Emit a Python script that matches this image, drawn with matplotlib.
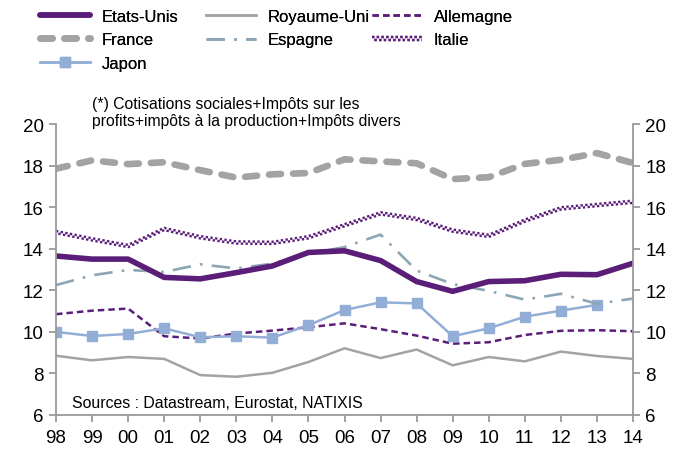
import matplotlib
matplotlib.use("Agg")
import matplotlib.pyplot as plt
from matplotlib.lines import Line2D
from matplotlib.legend_handler import HandlerBase
from matplotlib.transforms import offset_copy
import numpy as np

plt.rcParams['font.family'] = ['Liberation Sans', 'DejaVu Sans']

years = ['98', '99', '00', '01', '02', '03', '04', '05', '06', '07', '08',
         '09', '10', '11', '12', '13', '14']

etats_unis = [13.65, 13.5, 13.5, 12.62, 12.55, 12.85, 13.17, 13.82, 13.9, 13.43, 12.42,
              11.95, 12.42, 12.46, 12.77, 12.75, 13.3]
royaume_uni = [8.85, 8.63, 8.79, 8.7, 7.92, 7.84, 8.03, 8.55, 9.21, 8.74, 9.15,
               8.39, 8.79, 8.58, 9.05, 8.84, 8.7]
allemagne = [10.85, 11.02, 11.12, 9.79, 9.68, 9.92, 10.06, 10.22, 10.41, 10.13, 9.82,
             9.43, 9.5, 9.85, 10.05, 10.08, 10.03]
france = [17.85, 18.25, 18.07, 18.16, 17.78, 17.42, 17.58, 17.64, 18.3, 18.2, 18.11,
          17.35, 17.44, 18.08, 18.28, 18.6, 18.12]
espagne = [12.25, 12.72, 12.98, 12.88, 13.25, 13.05, 13.28, 13.75, 14.08, 14.68, 12.95,
           12.3, 11.97, 11.55, 11.83, 11.35, 11.6]
italie = [14.8, 14.45, 14.13, 14.95, 14.55, 14.3, 14.28, 14.55, 15.13, 15.7, 15.43,
          14.87, 14.62, 15.35, 15.94, 16.1, 16.26]
japon = [10.0, 9.8, 9.9, 10.17, 9.74, 9.79, 9.72, 10.32, 11.05, 11.42, 11.37,
         9.79, 10.17, 10.73, 11.02, 11.3, np.nan]

PURPLE = '#5A1E78'
GREY = '#A3A3A3'
SPAIN = '#8CA6B5'
JAPAN = '#93AED6'
AXC = '#9A9A9A'

fig = plt.figure(figsize=(6.88, 4.52), dpi=100)
ax = fig.add_axes([56/688, 1-416/452, (633-56)/688, (416-125)/452])
x = np.arange(len(years))

# checkered line: two thin dashed lines, phase-shifted, offset vertically
CK_LW = 1.7
CK_DY = 0.82
CK_STYLES = [(CK_DY, (0, (1, 1))), (-CK_DY, (1, (1, 1)))]

l_uk, = ax.plot(x, royaume_uni, color=GREY, lw=1.8, label='Royaume-Uni')
l_de, = ax.plot(x, allemagne, color=PURPLE, lw=1.8, dashes=(2.6, 1.6), label='Allemagne')
l_jp, = ax.plot(x, japon, color=JAPAN, lw=1.8, marker='s', ms=6.5, label='Japon')
l_es, = ax.plot(x, espagne, color=SPAIN, lw=1.9, dashes=(7, 3.5, 1, 3.5), label='Espagne')
for dy, ls in CK_STYLES:
    tr = offset_copy(ax.transData, fig=fig, x=0, y=dy, units='points')
    ax.plot(x, italie, color=PURPLE, lw=CK_LW, linestyle=ls, dash_capstyle='butt',
            transform=tr)
l_us, = ax.plot(x, etats_unis, color=PURPLE, lw=4.0, solid_capstyle='round', label='Etats-Unis')
l_fr, = ax.plot(x, france, color=GREY, lw=4.8, dashes=(1.8, 1.8), dash_capstyle='round',
                label='France')


class HandlerChecker(HandlerBase):
    def create_artists(self, legend, orig_handle, xdescent, ydescent, width, height,
                       fontsize, trans):
        y = height / 2 - ydescent
        arts = []
        for dy, ls in CK_STYLES:
            ln = Line2D([-xdescent, width - xdescent], [y + dy, y + dy], color=PURPLE,
                        lw=CK_LW, linestyle=ls, dash_capstyle='butt')
            ln.set_transform(trans)
            arts.append(ln)
        return arts


class CheckerKey:
    pass


h_it = CheckerKey()

ax.set_xlim(0, len(years) - 1)
ax.set_ylim(6, 20)
ax.set_yticks(np.arange(6, 21, 2))
ax.set_xticks(x)
ax.set_xticklabels(years)

for s in ['left', 'right', 'bottom']:
    ax.spines[s].set_color(AXC)
    ax.spines[s].set_linewidth(1.3)
ax.spines['top'].set_visible(False)
ax.tick_params(axis='both', colors=AXC, labelcolor='black', labelsize=13.5,
               direction='out', length=5, width=1.3)
ax.tick_params(axis='y', left=True, right=True, labelleft=True, labelright=True, pad=4)
ax.tick_params(axis='x', pad=5)

ax.text((92-56)/577, 1 + (125-113)/291, "(*) Cotisations sociales+Impôts sur les\nprofits+impôts à la production+Impôts divers",
        transform=ax.transAxes, fontsize=11.3, va='center', ha='left', linespacing=1.2)
ax.text((72-56)/577, (416-404)/291, "Sources : Datastream, Eurostat, NATIXIS",
        transform=ax.transAxes, fontsize=11.4, va='center', ha='left')

columns = [
    ([l_us, l_fr, l_jp], ['Etats-Unis', 'France', 'Japon'], 30),
    ([l_uk, l_es], ['Royaume-Uni', 'Espagne'], 196),
    ([l_de, h_it], ['Allemagne', 'Italie'], 362),
]
for hs, ls, xpix in columns:
    leg = fig.legend(hs, ls, loc='upper left', bbox_to_anchor=(xpix/688, 1.0),
                     frameon=False, fontsize=12, handlelength=3.0, handletextpad=0.7,
                     labelspacing=0.5, borderaxespad=0.2,
                     handler_map={CheckerKey: HandlerChecker()})
    fig.add_artist(leg)

fig.savefig('out.png', dpi=100)
